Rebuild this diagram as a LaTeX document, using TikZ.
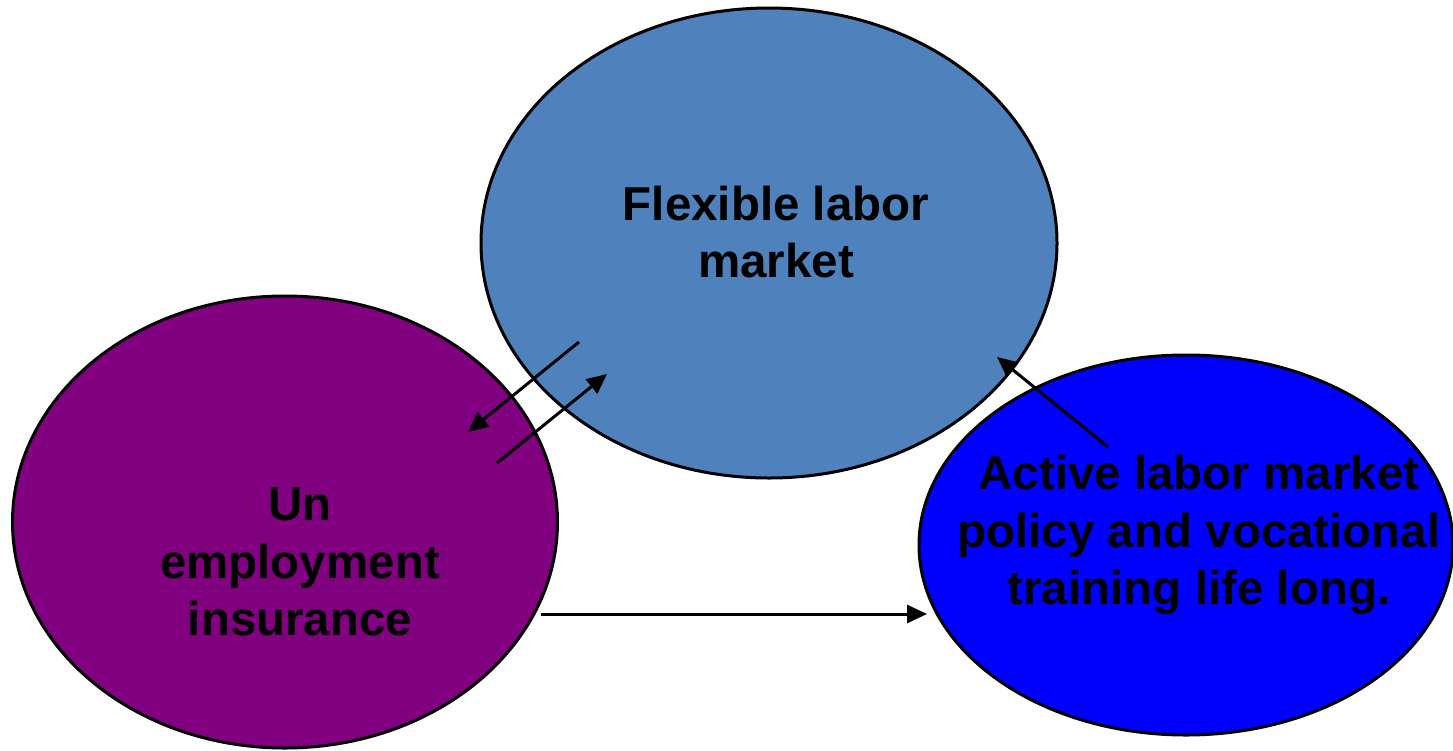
\documentclass[tikz,border=0pt]{standalone}
\usepackage{fontspec}
\setmainfont{Liberation Sans}
\usetikzlibrary{shapes.geometric,arrows.meta}

\definecolor{flexblue}{RGB}{79,129,189}
\definecolor{insurpurple}{RGB}{128,0,128}
\definecolor{activeblue}{RGB}{0,0,255}

\tikzset{
	bubble/.style={ellipse, draw=black, line width=3pt, inner sep=0pt},
	label/.style={align=center, font=\bfseries\fontsize{47.5}{57.5}\selectfont},
	link/.style={line width=3pt, -{Triangle[length=20pt,width=18pt]}}
}

\begin{document}
\begin{tikzpicture}[x=1pt,y=-1pt]
	\useasboundingbox (0,0) rectangle (1453,750);

	% circles
	\node[bubble, fill=insurpurple, minimum width=545, minimum height=452] (insur) at (285,522) {};
	\node[bubble, fill=flexblue, minimum width=576, minimum height=470] (flex) at (769,243) {};
	\node[bubble, fill=activeblue, minimum width=534, minimum height=380] (active) at (1186,545) {};

	% texts
	\node[label] (flextxt) at (776,232) {Flexible labor\\market};
	\node[label] (insurtxt) at (300,562) {Un\\employment\\insurance};
	\node[label] (activetxt) at (1199,535) {Active labor market\\policy and vocational\\training life long.};

	% arrow ends
	\coordinate (a1) at (579,342);
	\coordinate (a2) at (468,432);
	\coordinate (b1) at (497,463);
	\coordinate (b2) at (607,374);
	\coordinate (c1) at (1108,447);
	\coordinate (c2) at (997,357);
	\coordinate (d1) at (541,614);
	\coordinate (d2) at (927,614);

	% arrows
	\draw[link] (a1) -- (a2);
	\draw[link] (b1) -- (b2);
	\draw[link] (c1) -- (c2);
	\draw[link] (d1) -- (d2);
\end{tikzpicture}
\end{document}
